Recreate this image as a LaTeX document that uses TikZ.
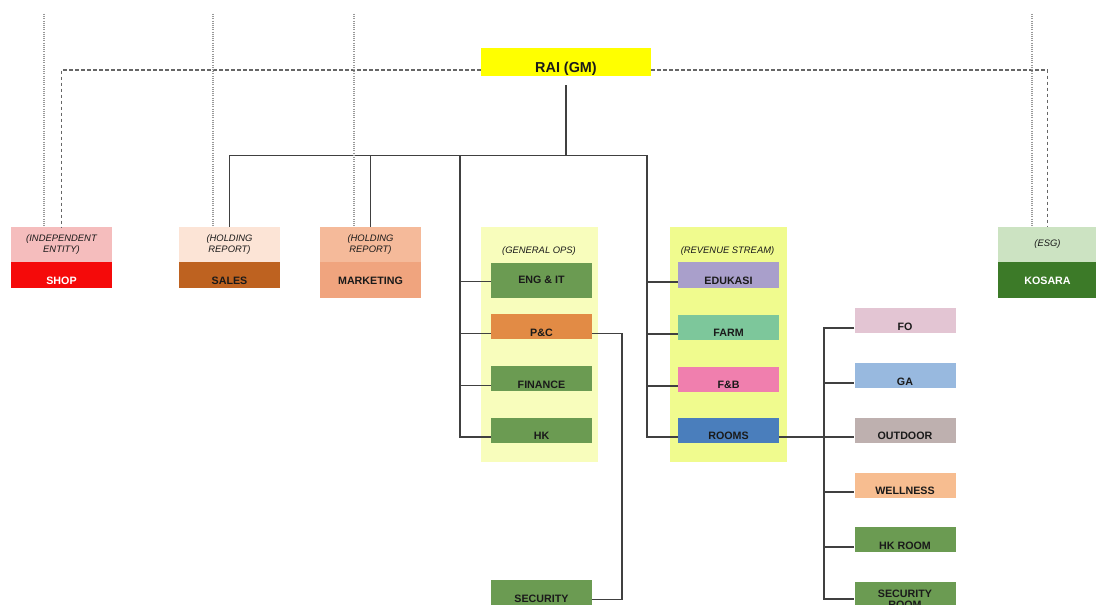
\documentclass[tikz,border=0pt]{standalone}
\usepackage{fontspec}
\setmainfont{Liberation Sans}
\newcommand\bxf{\fontsize{10.7bp}{11bp}\selectfont\bfseries}
\newcommand\lblf{\fontsize{9.4bp}{11bp}\selectfont\itshape}
\newcommand\raif{\fontsize{14.4bp}{16bp}\selectfont\bfseries}
\definecolor{txtcol}{HTML}{1A1A1A}
\definecolor{lncol}{HTML}{404040}
\definecolor{dshcol}{HTML}{666666}
\definecolor{dotcol}{HTML}{999999}
\definecolor{raicol}{HTML}{FFFF00}
\definecolor{shoptc}{HTML}{F5BDBD}
\definecolor{shopc}{HTML}{F50A0A}
\definecolor{salestc}{HTML}{FCE4D6}
\definecolor{salesc}{HTML}{BE6220}
\definecolor{mkttc}{HTML}{F5BA9A}
\definecolor{mktc}{HTML}{F0A47E}
\definecolor{kostc}{HTML}{CCE3C2}
\definecolor{kosc}{HTML}{3C7A28}
\definecolor{grn}{HTML}{6B9B52}
\definecolor{pccol}{HTML}{E28B45}
\definecolor{educol}{HTML}{A99FCB}
\definecolor{farmcol}{HTML}{7DC79B}
\definecolor{fbcol}{HTML}{F07FAE}
\definecolor{roomscol}{HTML}{4A7EBC}
\definecolor{focol}{HTML}{E3C5D3}
\definecolor{gacol}{HTML}{98B9DF}
\definecolor{outcol}{HTML}{BEB0AF}
\definecolor{wellcol}{HTML}{F7BD90}
\definecolor{gopsbg}{HTML}{F8FDBC}
\definecolor{revbg}{HTML}{F0FB8E}
\begin{document}
\begin{tikzpicture}[x=1bp,y=-1bp,
  conn/.style={draw=lncol, line width=1.5bp},
  dashln/.style={draw=dshcol, line width=1.6bp, dash pattern=on 3.5bp off 2.5bp},
  dotln/.style={draw=dotcol, line width=1.2bp, dash pattern=on 1bp off 1.2bp},
  box/.style={rectangle, inner sep=0pt, minimum width=101bp, font=\bxf, text=txtcol},
  std/.style={box, text height=22.3bp, text depth=2.7bp},
  lbl/.style={rectangle, inner sep=0pt, minimum width=101bp, minimum height=35bp, font=\lblf, align=center, text=txtcol},
  bgbox/.style={rectangle, inner sep=0pt, minimum width=117bp, minimum height=235bp},
  grplbl/.style={inner sep=0pt, font=\lblf, text=txtcol}]
\useasboundingbox (0,0) rectangle (1096,605);
\clip (0,0) rectangle (1096,605);

% group backgrounds
\node[bgbox, fill=gopsbg] (gops) at (539.5,344.5) {};
\node[bgbox, fill=revbg] (rev) at (728,344.5) {};
\node[grplbl] (gopsl) at (539,251.5) {(GENERAL OPS)};
\node[grplbl] (revl) at (727.5,251.5) {(REVENUE STREAM)};

% top
\node[rectangle, inner sep=0pt, minimum width=170bp, fill=raicol, font=\raif, text=txtcol, text height=24.15bp, text depth=3.25bp] (rai) at (566,62) {RAI (GM)};

% two-part boxes
\node[lbl, fill=shoptc] (shopt) at (61.5,244.5) {(INDEPENDENT\\ENTITY)};
\node[box, fill=shopc, text=white, text height=22.8bp, text depth=3.2bp] (shop) at (61.5,275) {SHOP};
\node[lbl, fill=salestc] (salest) at (229.5,244.5) {(HOLDING\\REPORT)};
\node[box, fill=salesc, text height=22.8bp, text depth=3.2bp] (sales) at (229.5,275) {SALES};
\node[lbl, fill=mkttc] (mktt) at (370.5,244.5) {(HOLDING\\REPORT)};
\node[box, fill=mktc, text height=22.8bp, text depth=13.2bp] (mkt) at (370.5,280) {MARKETING};
\node[lbl, fill=kostc, minimum width=100bp] (kost) at (1047.5,244.5) {(ESG)};
\node[box, fill=kosc, text=white, minimum width=100bp, text height=22.8bp, text depth=13.2bp] (kos) at (1047.5,280) {KOSARA};

% general ops
\node[box, fill=grn, text height=21.2bp, text depth=14.4bp] (eng) at (541.5,280.5) {ENG \& IT};
\node[std, fill=pccol] (pc) at (541.5,326.5) {P\&C};
\node[std, fill=grn] (fin) at (541.5,378.5) {FINANCE};
\node[std, fill=grn] (hk) at (541.5,430) {HK};
\node[std, fill=grn] (sec) at (541.5,592.5) {SECURITY};

% revenue stream
\node[std, fill=educol] (edu) at (728.5,275) {EDUKASI};
\node[std, fill=farmcol] (farm) at (728.5,327) {FARM};
\node[std, fill=fbcol] (fb) at (728.5,379) {F\&B};
\node[std, fill=roomscol] (rooms) at (728.5,430) {ROOMS};

% rooms children
\node[std, fill=focol] (fo) at (905,320.8) {FO};
\node[std, fill=gacol] (ga) at (905,375.8) {GA};
\node[std, fill=outcol] (out) at (905,430) {OUTDOOR};
\node[std, fill=wellcol] (well) at (905,485) {WELLNESS};
\node[std, fill=grn] (hkr) at (905,539.8) {HK ROOM};
\node[box, fill=grn, align=center, minimum height=35bp] (secr) at (905,599.2) {SECURITY\\ROOM};

% solid connectors
\coordinate (hub) at (566,155.3);
\draw[conn] ([yshift=-9.3bp]rai.south) -- (hub);
\draw[conn] (hub) -| (salest.north);
\draw[conn] (mktt.north |- hub) -- (mktt.north);
\draw[conn] (hub) -| ([xshift=-31bp]hk.mid west) -- (hk.mid west);
\foreach \n in {eng,pc,fin} \draw[conn] ([xshift=-31bp]\n.mid west) -- (\n.mid west);
\draw[conn] (hub) -| ([xshift=-31bp]rooms.mid west) -- (rooms.mid west);
\foreach \n in {edu,farm,fb} \draw[conn] ([xshift=-31bp]\n.mid west) -- (\n.mid west);
\draw[conn] (pc.mid east) -| ([xshift=30bp]sec.mid east) -- (sec.mid east);
\draw[conn] (rooms.mid east) -- (out.mid west);
\draw[conn] (fo.mid west) -| ([xshift=-30.5bp]secr.west) -- (secr.west);
\foreach \n in {ga,well,hkr} \draw[conn] ([xshift=-30.5bp]\n.mid west) -- (\n.mid west);

% dashed connectors
\draw[dashln] (rai.mid west) -| (shopt.north);
\draw[dashln] (rai.mid east) -| (kost.north);

% dotted lines
\coordinate (t1) at (44,14);
\coordinate (t2) at (213,14);
\coordinate (t3) at (354,14);
\coordinate (t4) at (1032,14);
\draw[dotln] (t1) -- (t1 |- shopt.north);
\draw[dotln] (t2) -- (t2 |- salest.north);
\draw[dotln] (t3) -- (t3 |- mktt.north);
\draw[dotln] (t4) -- (t4 |- kost.north);
\end{tikzpicture}
\end{document}
